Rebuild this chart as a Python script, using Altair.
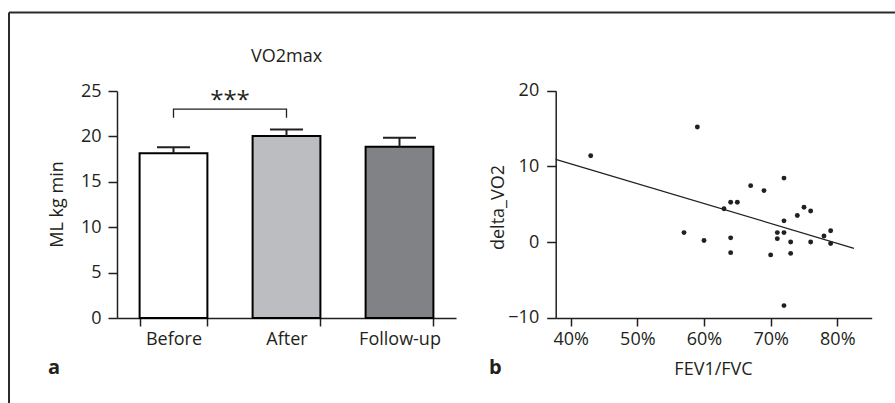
import altair as alt
import pandas as pd

# ---------------- data ----------------
groups = ["Before", "After", "Follow-up"]
means = [18.15, 20.05, 18.85]
err_top = [18.8, 20.75, 19.85]
fills = ["#ffffff", "#bcbdc1", "#818285"]

bracket_group = ["Before", "Before", "After", "After"]
bracket_val = [22.05, 23.0, 23.0, 22.05]

fev = [0.43, 0.59, 0.57, 0.60, 0.63, 0.64, 0.65, 0.64, 0.64, 0.67, 0.69,
       0.70, 0.71, 0.71, 0.72, 0.72, 0.72, 0.73, 0.73, 0.74, 0.75, 0.76,
       0.76, 0.78, 0.79, 0.79, 0.72]
dvo2 = [11.4, 15.2, 1.25, 0.2, 4.4, 5.25, 5.25, 0.55, -1.4, 7.45, 6.8,
        -1.7, 1.25, 0.45, 8.45, 2.8, 1.25, 0.0, -1.5, 3.5, 4.6, 4.1,
        0.0, 0.8, 1.5, -0.2, -8.4]

fit_x = [0.3775, 0.825]
fit_y = [10.92, -0.83]

INK = "#231f20"
FONT = "Open Sans"

# ---------------- panel a ----------------
bar_df = pd.DataFrame({"group": groups, "mean": means, "top": err_top, "fill": fills})
xa = alt.X("group:N", sort=groups,
           scale=alt.Scale(domain=groups, range=[117, 456], paddingInner=0.4, paddingOuter=0.2),
           axis=alt.Axis(orient="bottom", offset=-85, title=None, tickBand="extent",
                         tickSize=8, labelPadding=18, labelBaseline="alphabetic",
                         labelAngle=0, domainColor=INK, tickColor=INK,
                         domainWidth=1.5, tickWidth=1.5, labelFontSize=18,
                         labelFont=FONT, labelColor=INK, grid=False))
ya = alt.Y("mean:Q",
           scale=alt.Scale(domain=[0, 25], range=[318, 91], nice=False, zero=True),
           axis=alt.Axis(orient="left", offset=-117, values=[0, 5, 10, 15, 20, 25],
                         title="ML kg min", titleX=-55, titleY=204, titleAngle=-90,
                         titleBaseline="alphabetic", titleAlign="center",
                         titleFont=FONT, titleFontSize=18, titleFontWeight="normal",
                         titleColor=INK, tickSize=9, labelPadding=7,
                         labelFontSize=18, labelFont=FONT, labelColor=INK,
                         domainColor=INK, tickColor=INK, domainWidth=1.5,
                         tickWidth=1.5, grid=False))

err_line = alt.Chart(bar_df).mark_rule(color=INK, strokeWidth=2).encode(
    x=xa, y=ya, y2="top:Q")
err_cap = alt.Chart(bar_df).mark_tick(color=INK, orient="horizontal", size=33,
                                      thickness=2, opacity=1).encode(
    x=xa, y=alt.Y("top:Q"))
bars = alt.Chart(bar_df).mark_bar(stroke="black", strokeWidth=2).encode(
    x=xa, y=ya,
    fill=alt.Fill("fill:N", scale=None, legend=None))

br_df = pd.DataFrame({"group": bracket_group, "val": bracket_val, "ord": [0, 1, 2, 3]})
bracket = alt.Chart(br_df).mark_line(color=INK, strokeWidth=1.3).encode(
    x=alt.X("group:N", sort=groups), y=alt.Y("val:Q"), order="ord:O")

star_df = pd.DataFrame({"group": ["Before"], "val": [23.0], "txt": ["***"]})
stars = alt.Chart(star_df).mark_text(font=FONT, fontSize=24, color=INK, dx=56.5, dy=-1,
                                     baseline="alphabetic", align="center").encode(
    x=alt.X("group:N", sort=groups), y=alt.Y("val:Q"), text="txt:N")

ttl_df = pd.DataFrame({"group": ["After"], "val": [28.15], "txt": ["VO2max"]})
ttl = alt.Chart(ttl_df).mark_text(font=FONT, fontSize=18, color=INK,
                                  baseline="alphabetic", align="center").encode(
    x=alt.X("group:N", sort=groups), y=alt.Y("val:Q"), text="txt:N")

panel_a = alt.layer(bars, err_line, err_cap, bracket, stars, ttl)

# ---------------- panel b ----------------
sc_df = pd.DataFrame({"fev": fev, "dvo2": dvo2})
fit_df = pd.DataFrame({"fev": fit_x, "dvo2": fit_y})

xb = alt.X("fev:Q",
           scale=alt.Scale(domain=[0.3775, 0.8516], range=[555.7, 871.7], nice=False, zero=False),
           axis=alt.Axis(orient="bottom", offset=-85, values=[0.4, 0.5, 0.6, 0.7, 0.8],
                         format=".0%", title="FEV1/FVC", titleX=713, titleY=56,
                         titleBaseline="alphabetic", titleFont=FONT, titleFontSize=18,
                         titleFontWeight="normal", titleColor=INK,
                         tickSize=8, labelPadding=18, labelBaseline="alphabetic",
                         labelFontSize=18, labelFont=FONT, labelColor=INK,
                         domainColor=INK, tickColor=INK, domainWidth=1.5,
                         tickWidth=1.5, grid=False, labelFlush=False))
yb = alt.Y("dvo2:Q",
           scale=alt.Scale(domain=[-10, 20], range=[317.7, 90.7], nice=False, zero=False),
           axis=alt.Axis(orient="left", offset=-555.7, values=[-10, 0, 10, 20],
                         title="delta_VO2", titleX=-52, titleY=207, titleAngle=-90,
                         titleBaseline="alphabetic", titleAlign="center",
                         titleFont=FONT, titleFontSize=18, titleFontWeight="normal",
                         titleColor=INK, tickSize=9, labelPadding=8,
                         labelFontSize=18, labelFont=FONT, labelColor=INK,
                         domainColor=INK, tickColor=INK, domainWidth=1.5,
                         tickWidth=1.5, grid=False))

pts = alt.Chart(sc_df).mark_circle(color=INK, size=24, opacity=1).encode(x=xb, y=yb)
fit = alt.Chart(fit_df).mark_line(color=INK, strokeWidth=1.2).encode(
    x=alt.X("fev:Q"), y=alt.Y("dvo2:Q"))

panel_b = alt.layer(fit, pts)

# ---------------- frame and panel letters ----------------
one = pd.DataFrame({"k": [0]})
frame_top = alt.Chart(one).mark_rule(color="#2b2b2b", strokeWidth=2).encode(
    x=alt.value(9), x2=alt.value(895), y=alt.value(12.5))
frame_left = alt.Chart(one).mark_rule(color="#2b2b2b", strokeWidth=2).encode(
    x=alt.value(9), y=alt.value(12.5), y2=alt.value(403))
let_df = pd.DataFrame({"lab": ["a", "b"], "px": [48, 489]})
letters = alt.Chart(let_df).mark_text(font=FONT, fontSize=20, fontWeight="bold",
                                      color=INK, align="left", baseline="alphabetic").encode(
    x=alt.X("px:Q", scale=None), y=alt.value(374), text="lab:N")

chart = alt.layer(frame_top, frame_left, letters, panel_a, panel_b).resolve_scale(
    x="independent", y="independent"
).properties(
    width=895, height=403,
    autosize=alt.AutoSizeParams(type="none"),
    padding=0,
    background="white",
).configure_view(stroke=None)

chart.save("out.html", embed_options={"renderer": "svg", "actions": False})
